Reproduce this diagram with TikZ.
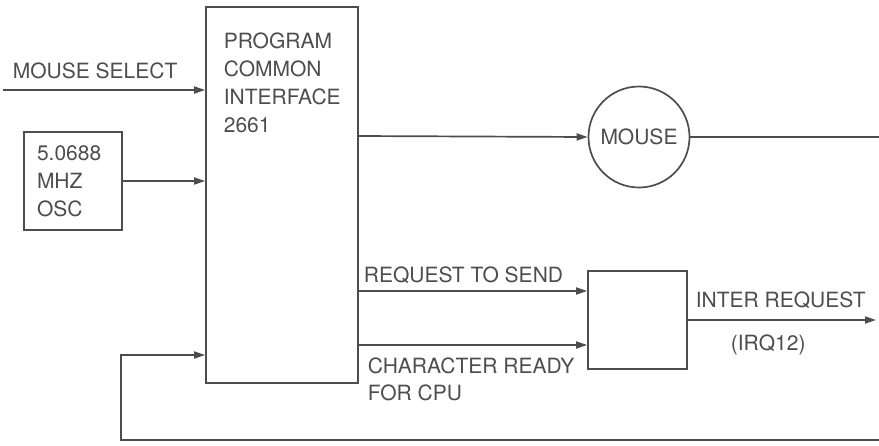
\documentclass[tikz,border=0pt]{standalone}
\usepackage{fontspec}
\setmainfont{TeX Gyre Heros}
\usetikzlibrary{arrows.meta}
\definecolor{ink}{HTML}{4D4D4D}
\begin{document}
\begin{tikzpicture}[x=1pt,y=-1pt,
  line width=1.7pt, draw=ink, text=ink,
  every node/.style={font=\fontsize{21}{28}\selectfont},
  arr/.style={-{Triangle[length=11pt,width=7pt]}},
  lbl/.style={inner sep=0pt, anchor=base west, align=left},
  blk/.style={draw, rectangle, inner sep=0pt}]
\useasboundingbox (0,0) rectangle (879,445);
% blocks
\node[blk, minimum width=152pt, minimum height=376pt] (pci) at (282,195) {};
\node[lbl, anchor=north west] (pcit) at (223,32) {PROGRAM\\COMMON\\INTERFACE\\2661};
\node[blk, minimum width=98pt, minimum height=98pt, text width=72pt, inner xsep=13pt, align=left] (osc) at (73,181) {5.0688\\MHZ\\OSC};
\node[draw, circle, minimum size=101pt, inner sep=0pt] (mouse) at (639,137) {MOUSE};
\node[blk, minimum width=99pt, minimum height=98pt] (gate) at (637.5,320) {};
% coordinates
\coordinate (msin) at (3,90);
\coordinate (mout) at (879,137);
\coordinate (irq) at (876,320);
\coordinate (fbr) at (879,440);
\coordinate (fbc) at (121,440);
% connectors
\draw[arr] (msin) -- (msin -| pci.west);
\draw[arr] (osc.east) -- (osc.east -| pci.west);
\draw[arr] (pci.east |- 0,136) -- (mouse.west);
\draw (mouse.east) -- (mout);
\draw[arr] (pci.east |- 0,291) -- (gate.west |- 0,291);
\draw[arr] (pci.east |- 0,345) -- (gate.west |- 0,345);
\draw[arr] (gate.east) -- (irq);
\draw[arr] (fbr) -- (fbc) |- (pci.west |- 0,355);
% labels
\node[lbl] (ms) at (12,78) {MOUSE SELECT};
\node[lbl] (rts) at (363,282) {REQUEST TO SEND};
\node[lbl] (crc) at (367,373) {CHARACTER READY};
\node[lbl] (fcpu) at (367,400) {FOR CPU};
\node[lbl] (ir) at (695,307) {INTER REQUEST};
\node[lbl] (irqt) at (730,350) {(IRQ12)};
\end{tikzpicture}
\end{document}
